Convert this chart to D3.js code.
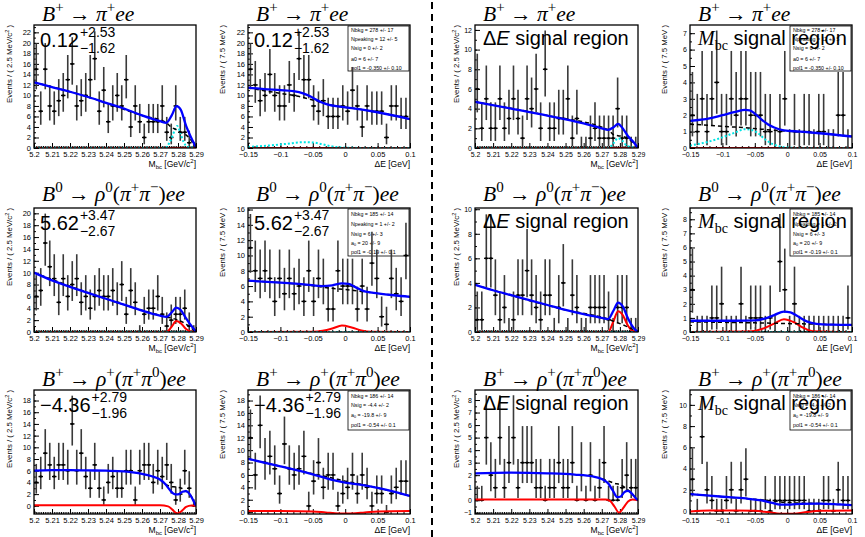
<!DOCTYPE html>
<html>
<head>
<meta charset="utf-8">
<script src="https://cdn.jsdelivr.net/npm/d3@7"></script>
<style>
  body { margin: 0; background: #fff; }
  svg { display: block; }
</style>
</head>
<body>
<svg id="chart" width="865" height="537"></svg>
<script>
// ---- event counts per bin (Mbc: 36 bins of 2.5 MeV, dE: 33 bins of 7.5 MeV) ----
const pipMbc   = [15,7,15,8,7,9,10,13,16,8, 9,10,13,17,7,11,5,8,10,8, 13,4,8,5,2,5,5,5,8,3, 2,8,3,3,1,0];
const pipDe    = [15,12,9,10,14,10,8,8,12,10, 17,13,13,8,7,9,6,6,6,8, 7,11,8,4,8,7,7,7,2,8, 8,6,6];
const pipMbcSR = [6,2,5,2,2,5,2,3,5,3, 1,5,4,6,2,8,2,2,3,3, 5,1,3,0,0,1,2,1,1,1, 1,4,1,1,0,0];
const pipDeSR  = [2,1,3,1,3,4,1,1,3,2, 3,3,2,2,2,1,1,0,1,3, 0,1,0,1,1,0,1,1,0,0, 2,2,0];

const rho0Mbc   = [6,7,15,11,9,5,9,6,8,9, 5,6,4,6,7,6,6,7,5,8, 3,7,5,0,3,4,4,6,3,1, 2,3,3,4,1,0];
const rho0De    = [11,8,7,8,7,4,7,5,7,5, 6,4,8,4,7,6,3,3,8,6, 6,6,3,6,3,9,7,2,1,7, 5,4,10];
const rho0MbcSR = [1,1,6,6,3,1,2,0,1,3, 3,5,3,2,1,3,3,0,2,4, 0,3,2,0,0,2,2,2,2,1, 0,2,2,2,0,0];
const rho0DeSR  = [3,0,0,0,1,1,2,0,0,0, 2,0,1,1,1,0,1,0,5,3, 0,2,0,0,0,0,0,0,0,0, 0,0,1];

const rhopMbc   = [4,5,9,7,5,7,7,6,14,6, 9,5,3,7,3,1,4,5,3,3, 6,6,1,6,7,7,4,6,5,7, 4,1,2,6,3,0];
const rhopDe    = [12,6,14,8,9,7,3,11,7,6, 7,9,1,5,8,4,6,6,1,3, 4,6,3,6,4,1,3,3,0,3, 4,5,5];
const rhopMbcSR = [0,0,5,2,1,5,1,3,5,1, 3,3,3,1,1,0,1,1,3,1, 1,3,0,2,0,2,0,1,3,0, 0,0,1,2,1,1];
const rhopDeSR  = [3,0,7,2,1,0,0,1,2,0, 2,3,0,0,0,1,0,1,1,1, 1,1,1,1,0,0,0,1,1,0, 2,1,1];

// ---- fit curves: [x, y] ----
const zeroMbc = [[5.2,0],[5.29,0]];
const zeroDe  = [[-0.15,0],[0.1,0]];

const pipMbcFit  = [[5.2,12.5],[5.21,11.6],[5.22,10.7],[5.23,9.7],[5.24,8.6],[5.25,7.5],[5.26,6.2],[5.27,5.1],[5.2735,4.8],[5.2765,6.2],[5.2792,7.95],[5.2815,7.3],[5.2845,4.2],[5.287,2.2],[5.2895,0.5],[5.29,0.2]];
const pipMbcBkg  = [[5.2,12.5],[5.23,9.7],[5.26,6.2],[5.2735,4.8],[5.2765,3.9],[5.279,3.5],[5.2815,3.0],[5.284,2.6],[5.287,1.6],[5.29,0]];
const pipMbcPeak = [[5.2,0],[5.273,0],[5.2755,1.2],[5.2785,3.6],[5.2795,4.2],[5.281,3.2],[5.283,1.2],[5.2855,0.2],[5.29,0]];
const pipDeFit   = [[-0.15,11.5],[-0.125,11.2],[-0.1,11.0],[-0.08,10.8],[-0.065,10.4],[-0.055,9.9],[-0.045,9.2],[-0.035,8.6],[-0.025,8.2],[-0.01,7.9],[0.01,7.6],[0.05,6.8],[0.1,5.5]];
const pipDeBkg   = [[-0.15,11.5],[-0.125,10.9],[-0.1,10.4],[-0.075,9.9],[-0.055,9.3],[-0.04,8.8],[-0.025,8.3],[-0.01,7.9],[0.01,7.6],[0.05,6.8],[0.1,5.5]];
const pipDePeak  = [[-0.15,0.2],[-0.12,0.45],[-0.09,0.8],[-0.065,1.1],[-0.05,1.05],[-0.035,0.7],[-0.02,0.3],[-0.005,0.1],[0.02,0.02],[0.1,0]];
const pipMbcSRFit  = [[5.2,4.7],[5.22,4.0],[5.24,3.3],[5.26,2.5],[5.27,2.0],[5.2735,1.85],[5.2765,2.1],[5.279,2.45],[5.2815,2.0],[5.2845,1.2],[5.2875,0.6],[5.29,0]];
const pipMbcSRBkg  = [[5.2,4.7],[5.24,3.3],[5.2735,1.85],[5.2765,1.35],[5.279,1.25],[5.282,1.15],[5.285,0.9],[5.2875,0.5],[5.29,0]];
const pipMbcSRPeak = [[5.2,0],[5.2735,0],[5.2765,0.5],[5.279,1.0],[5.2815,0.7],[5.284,0.2],[5.29,0]];
const pipDeSRFit   = [[-0.15,1.65],[-0.12,1.8],[-0.1,2.0],[-0.08,2.2],[-0.065,2.32],[-0.058,2.3],[-0.05,2.1],[-0.04,1.75],[-0.03,1.45],[-0.02,1.25],[-0.005,1.08],[0.02,1.0],[0.05,0.9],[0.1,0.7]];
const pipDeSRBkg   = [[-0.15,1.45],[-0.12,1.38],[-0.09,1.3],[-0.06,1.22],[-0.04,1.15],[-0.02,1.08],[0,1.02],[0.05,0.9],[0.1,0.7]];
const pipDeSRPeak  = [[-0.15,0.15],[-0.12,0.4],[-0.1,0.65],[-0.08,0.95],[-0.065,1.15],[-0.055,1.1],[-0.045,0.9],[-0.035,0.55],[-0.02,0.2],[-0.005,0.05],[0.02,0],[0.1,0]];

const rho0MbcFit = [[5.2,10],[5.21,8.7],[5.22,7.6],[5.23,6.6],[5.24,5.6],[5.25,4.6],[5.26,3.6],[5.27,2.75],[5.2735,2.55],[5.2765,3.3],[5.279,4.1],[5.2815,3.7],[5.2845,2.3],[5.2875,1.0],[5.29,0.1]];
const rho0MbcBkg = [[5.2,10],[5.25,4.6],[5.2735,2.55],[5.277,2.3],[5.281,1.9],[5.285,1.2],[5.29,0]];
const rho0MbcSig = [[5.2,0],[5.2735,0],[5.2765,0.9],[5.279,1.85],[5.2815,1.5],[5.2845,0.5],[5.2875,0.05],[5.29,0]];
const rho0DeFit  = [[-0.15,6.7],[-0.1,6.45],[-0.06,6.2],[-0.035,6.0],[-0.02,6.1],[-0.005,6.35],[0.005,6.3],[0.015,5.9],[0.03,5.3],[0.05,5.05],[0.075,4.8],[0.1,4.6]];
const rho0DeBkg  = [[-0.15,6.7],[-0.1,6.45],[-0.05,6.05],[-0.02,5.7],[0,5.55],[0.02,5.35],[0.05,5.05],[0.1,4.6]];
const rho0DeSig  = [[-0.15,0],[-0.05,0.02],[-0.035,0.15],[-0.02,0.45],[-0.005,0.85],[0.01,0.6],[0.025,0.2],[0.04,0.03],[0.1,0]];
const rho0MbcSRFit = [[5.2,3.85],[5.21,3.4],[5.22,3.0],[5.23,2.6],[5.24,2.2],[5.25,1.8],[5.26,1.45],[5.27,1.15],[5.2735,1.05],[5.2765,1.75],[5.279,2.4],[5.2815,2.1],[5.2845,1.1],[5.2875,0.35],[5.29,0]];
const rho0MbcSRBkg = [[5.2,3.85],[5.25,1.8],[5.2735,1.05],[5.278,0.8],[5.283,0.5],[5.29,0]];
const rho0MbcSRSig = [[5.2,0],[5.2735,0],[5.2765,0.9],[5.279,1.7],[5.2815,1.4],[5.2845,0.5],[5.2875,0.05],[5.29,0]];
const rho0DeSRFit  = [[-0.15,0.8],[-0.08,0.8],[-0.05,0.82],[-0.035,0.95],[-0.02,1.2],[-0.005,1.45],[0.005,1.4],[0.015,1.15],[0.03,0.75],[0.045,0.58],[0.07,0.52],[0.1,0.5]];
const rho0DeSRBkg  = [[-0.15,0.72],[-0.05,0.65],[0,0.6],[0.05,0.55],[0.1,0.5]];
const rho0DeSRSig  = [[-0.15,0],[-0.06,0.03],[-0.04,0.2],[-0.02,0.6],[-0.005,0.9],[0.01,0.7],[0.025,0.3],[0.04,0.06],[0.1,0]];

const rhopMbcFit = [[5.2,6.0],[5.21,6.1],[5.22,6.1],[5.23,6.05],[5.24,6.0],[5.25,5.9],[5.255,5.7],[5.26,5.45],[5.265,5.1],[5.27,4.5],[5.273,3.7],[5.2755,2.7],[5.278,2.0],[5.28,1.95],[5.2825,2.4],[5.2845,2.5],[5.2865,2.0],[5.288,1.2],[5.2895,0.3],[5.29,0]];
const rhopMbcBkg = [[5.27,4.5],[5.273,3.7],[5.276,3.3],[5.279,3.2],[5.282,3.0],[5.284,2.6],[5.2865,2.0],[5.29,0]];
const rhopMbcSig = [[5.2,0.1],[5.27,0.1],[5.2745,-0.1],[5.277,-0.7],[5.2795,-1.3],[5.282,-0.9],[5.2845,-0.2],[5.2875,0.05],[5.29,0.02]];
const rhopDeFit  = [[-0.15,8.6],[-0.1,7.4],[-0.05,6.1],[-0.02,5.2],[0,4.75],[0.025,4.4],[0.05,3.9],[0.075,3.3],[0.1,2.6]];
const rhopDeBkg  = [[-0.15,8.6],[-0.1,7.4],[-0.05,6.2],[-0.02,5.5],[0,5.0],[0.025,4.5],[0.05,3.9],[0.1,2.6]];
const rhopDeSig  = [[-0.15,0.2],[-0.1,0.18],[-0.05,0.1],[-0.03,-0.05],[-0.01,-0.2],[0.01,-0.2],[0.03,-0.05],[0.05,0.12],[0.1,0.2]];
const rhopMbcSRFit = [[5.2,2.15],[5.22,2.2],[5.24,2.15],[5.255,2.05],[5.265,1.9],[5.27,1.7],[5.2735,1.35],[5.276,0.8],[5.2785,0.25],[5.2805,0.3],[5.2825,0.65],[5.2845,0.75],[5.2865,0.55],[5.2885,0.2],[5.29,0]];
const rhopMbcSRBkg = [[5.27,1.7],[5.2735,1.55],[5.277,1.35],[5.28,1.25],[5.283,1.0],[5.286,0.6],[5.29,0]];
const rhopMbcSRSig = [[5.2,0.05],[5.272,0.05],[5.2745,-0.05],[5.277,-0.5],[5.2795,-1.0],[5.282,-0.6],[5.2845,-0.1],[5.287,0.05],[5.29,0]];
const rhopDeSRFit  = [[-0.15,1.6],[-0.12,1.45],[-0.09,1.3],[-0.06,1.15],[-0.04,1.0],[-0.025,0.8],[-0.01,0.6],[0.005,0.6],[0.02,0.68],[0.05,0.7],[0.08,0.62],[0.1,0.55]];
const rhopDeSRBkg  = [[-0.15,1.6],[-0.06,1.15],[-0.03,1.0],[0,0.8],[0.05,0.7],[0.1,0.55]];
const rhopDeSRSig  = [[-0.15,-0.05],[-0.12,0.05],[-0.08,0.05],[-0.05,0.02],[-0.03,-0.1],[-0.01,-0.25],[0.01,-0.25],[0.03,-0.1],[0.05,0.02],[0.1,0.05]];

// ---- text content ----
const yields = [["0.12","+2.53","\u22121.62"],["5.62","+3.47","\u22122.67"],["\u22124.36","+2.79","\u22121.96"]];
const fitPars = [
  [["Nbkg =  278 +/- 17"],["Npeaking =  12 +/- 5"],["Nsig =  0 +/- 2"],["a0 =  6 +/- 7"],["pol1 = -0.350 +/- 0.10"]],
  [["Nbkg =  185 +/- 14"],["Npeaking =  1 +/- 2"],["Nsig =  6 +/- 3"],["a","0"," =  20 +/- 9"],["pol1 = -0.19 +/- 0.1"]],
  [["Nbkg =  186 +/- 14"],["Nsig =  -4.4 +/- 2"],["a","0"," =  -19.8 +/- 9"],["pol1 = -0.54 +/- 0.1"]]
];

// ---- layout ----
const cols = [{l:34,r:196,yt:22,tf:7.5},{l:248,r:410,yt:23,tf:7.5},{l:475,r:638,yt:16,tf:7},{l:690,r:852,yt:23,tf:7}];
const rows = [{t:25,b:148,tb:21},{t:208,b:332,tb:201},{t:390,b:514,tb:386}];
const boxes = [{h:45,lines:[6,15,24,35,44]},{h:47,lines:[6.5,16.5,26.5,35.5,44.5]},{h:39,lines:[7,16,26,36]}];

const panels = [
  {r:0,c:0,k:"mbc",n:pipMbc,fit:pipMbcFit,bkg:pipMbcBkg,peak:pipMbcPeak,sig:zeroMbc,y:[0,23.4],st:2},
  {r:0,c:1,k:"de",n:pipDe,fit:pipDeFit,bkg:pipDeBkg,peak:pipDePeak,sig:zeroDe,y:[0,23.4],st:2},
  {r:0,c:2,k:"mbc",n:pipMbcSR,fit:pipMbcSRFit,bkg:pipMbcSRBkg,peak:pipMbcSRPeak,sig:zeroMbc,y:[0,12.5],st:2},
  {r:0,c:3,k:"de",n:pipDeSR,fit:pipDeSRFit,bkg:pipDeSRBkg,peak:pipDeSRPeak,sig:zeroDe,y:[0,7.5],st:1},
  {r:1,c:0,k:"mbc",n:rho0Mbc,fit:rho0MbcFit,bkg:rho0MbcBkg,peak:zeroMbc,sig:rho0MbcSig,y:[0,20.9],st:2},
  {r:1,c:1,k:"de",n:rho0De,fit:rho0DeFit,bkg:rho0DeBkg,peak:zeroDe,sig:rho0DeSig,y:[0,16.2],st:2},
  {r:1,c:2,k:"mbc",n:rho0MbcSR,fit:rho0MbcSRFit,bkg:rho0MbcSRBkg,peak:zeroMbc,sig:rho0MbcSRSig,y:[0,10.1],st:2},
  {r:1,c:3,k:"de",n:rho0DeSR,fit:rho0DeSRFit,bkg:rho0DeSRBkg,peak:zeroDe,sig:rho0DeSRSig,y:[0,8.8],st:1},
  {r:2,c:0,k:"mbc",n:rhopMbc,fit:rhopMbcFit,bkg:rhopMbcBkg,peak:null,sig:rhopMbcSig,y:[-1.4,19.8],st:2},
  {r:2,c:1,k:"de",n:rhopDe,fit:rhopDeFit,bkg:rhopDeBkg,peak:null,sig:rhopDeSig,y:[-0.3,19.7],st:2},
  {r:2,c:2,k:"mbc",n:rhopMbcSR,fit:rhopMbcSRFit,bkg:rhopMbcSRBkg,peak:null,sig:rhopMbcSRSig,y:[-1.1,8.8],st:1},
  {r:2,c:3,k:"de",n:rhopDeSR,fit:rhopDeSRFit,bkg:rhopDeSRBkg,peak:null,sig:rhopDeSRSig,y:[-0.28,11.4],st:2}
];

const serif = '"Liberation Serif","DejaVu Serif",serif';
const sans = '"Liberation Sans",Arial,sans-serif';

const titles = [
  [{t:"B",it:1},{t:"+",sup:1},{t:" \u2192  "},{t:"\u03c0",it:1},{t:"+",sup:1},{t:"ee",it:1}],
  [{t:"B",it:1},{t:"0",sup:1},{t:" \u2192  "},{t:"\u03c1",it:1},{t:"0",sup:1},{t:"("},{t:"\u03c0",it:1},{t:"+",sup:1},{t:"\u03c0",it:1},{t:"\u2212",sup:1},{t:")"},{t:"ee",it:1}],
  [{t:"B",it:1},{t:"+",sup:1},{t:" \u2192  "},{t:"\u03c1",it:1},{t:"+",sup:1},{t:"("},{t:"\u03c0",it:1},{t:"+",sup:1},{t:"\u03c0",it:1},{t:"0",sup:1},{t:")"},{t:"ee",it:1}]
];

// Poisson 68% central interval (RooFit style)
function poisCdf(n, mu) { let t = Math.exp(-mu), s = t; for (let k = 1; k <= n; k++) { t *= mu / k; s += t; } return s; }
function solve(f, target, lo, hi) { for (let i = 0; i < 60; i++) { const m = (lo + hi) / 2; if (f(m) > target) lo = m; else hi = m; } return (lo + hi) / 2; }
function errLo(n) { return n === 0 ? 0 : solve(mu => poisCdf(n - 1, mu), 0.8413, 0, n + 10); }
function errHi(n) { return n === 0 ? 1.148 : solve(mu => poisCdf(n, mu), 0.1587, 0, n + 20); }

// rich text: parts with italic / sup / sub
function rich(text, parts, size) {
  let shift = 0;
  parts.forEach(p => {
    const ts = text.append("tspan").text(p.t);
    const target = p.sup ? -size * 0.42 : (p.sub ? size * 0.25 : 0);
    if (target !== shift) { ts.attr("dy", target - shift); shift = target; }
    if (p.sup || p.sub) ts.attr("font-size", size * 0.7);
    if (p.it) ts.attr("font-style", "italic");
    if (p.font) ts.attr("font-family", p.font);
  });
}

const svg = d3.select("#chart");
svg.append("rect").attr("width", 865).attr("height", 537).attr("fill", "#fff");

// dashed separator
svg.append("line").attr("x1", 432).attr("x2", 432).attr("y1", 2).attr("y2", 537)
  .attr("stroke", "#000").attr("stroke-width", 2).attr("stroke-dasharray", "7,5");

panels.forEach((p, i) => {
  const C = cols[p.c], R = rows[p.r];
  const mbc = p.k === "mbc";
  const x = d3.scaleLinear().domain(mbc ? [5.2, 5.29] : [-0.15, 0.1]).range([C.l, C.r]);
  const y = d3.scaleLinear().domain(p.y).range([R.b, R.t]);
  const g = svg.append("g");

  g.append("clipPath").attr("id", "clip" + i).append("rect")
    .attr("x", C.l).attr("y", R.t).attr("width", C.r - C.l).attr("height", R.b - R.t);

  // axes
  const xMaj = mbc ? d3.range(10).map(j => +(5.2 + j * 0.01).toFixed(3)) : [-0.15, -0.1, -0.05, 0, 0.05, 0.1];
  const xMin = mbc ? d3.range(91).map(j => 5.2 + j * 0.001) : d3.range(26).map(j => -0.15 + j * 0.01);
  g.append("g").attr("transform", `translate(0,${R.b})`)
    .call(d3.axisBottom(x).tickValues(xMin).tickSize(-2).tickFormat(""))
    .call(a => a.select(".domain").remove());
  g.append("g").attr("transform", `translate(0,${R.b})`)
    .call(d3.axisBottom(x).tickValues(xMaj).tickSize(-5).tickPadding(4)
      .tickFormat(mbc ? d3.format(".3~f") : d3.format(".2~f")))
    .call(a => a.select(".domain").remove())
    .attr("font-size", C.tf).attr("font-family", sans);

  const y0 = Math.ceil(p.y[0] / p.st) * p.st;
  const yMaj = d3.range(y0, p.y[1] + 1e-9, p.st);
  const yMin = d3.range(Math.ceil(p.y[0] / (p.st / 2)) * (p.st / 2), p.y[1], p.st / 2);
  g.append("g").attr("transform", `translate(${C.l},0)`)
    .call(d3.axisLeft(y).tickValues(yMin).tickSize(-2).tickFormat(""))
    .call(a => a.select(".domain").remove());
  g.append("g").attr("transform", `translate(${C.l},0)`)
    .call(d3.axisLeft(y).tickValues(yMaj).tickSize(-5).tickPadding(3).tickFormat(d3.format("d")))
    .call(a => a.select(".domain").remove())
    .attr("font-size", C.tf).attr("font-family", sans);

  // axis titles
  const yt = g.append("text").attr("font-family", sans).attr("font-size", 7.8)
    .attr("text-anchor", "end")
    .attr("transform", `translate(${C.l - C.yt},${R.t}) rotate(-90)`);
  if (mbc) rich(yt, [{t:"Events / ( 2.5 MeV/c"},{t:"2",sup:1},{t:" )"}], 7.8);
  else rich(yt, [{t:"Events / ( 7.5 MeV )"}], 7.8);

  const xt = g.append("text").attr("font-family", sans).attr("font-size", 8.5)
    .attr("text-anchor", "end").attr("x", C.r).attr("y", R.b + 19);
  if (mbc) rich(xt, [{t:"M"},{t:"bc",sub:1},{t:" [GeV/c"},{t:"2",sup:1},{t:"]"}], 8.5);
  else rich(xt, [{t:"\u0394E [GeV]"}], 8.5);

  // title
  const tt = g.append("text").attr("font-family", serif).attr("font-size", 21.5)
    .attr("x", C.l + 8).attr("y", R.tb);
  rich(tt, titles[p.r], 21.5);

  // fit results box
  if (p.c === 1 || p.c === 3) {
    const B = boxes[p.r];
    const bw = 61, bx = C.r - bw - 1, by = R.t + 1;
    g.append("rect").attr("x", bx).attr("y", by).attr("width", bw).attr("height", B.h)
      .attr("fill", "#fff").attr("stroke", "#000").attr("stroke-width", 0.8);
    fitPars[p.r].forEach((ln, j) => {
      const t = g.append("text").attr("font-family", sans).attr("font-size", 5.3)
        .attr("x", bx + 3).attr("y", by + B.lines[j]);
      if (ln.length === 1) t.text(ln[0]);
      else rich(t, [{t:ln[0]},{t:ln[1],sub:1},{t:ln[2]}], 5.3);
    });
  }

  // data points with Poisson errors
  const w = mbc ? 0.0025 : 0.0075, xs = mbc ? 5.2 : -0.15;
  const bins = p.n.map((v, j) => ({c: xs + w * (j + 0.5), v, lo: errLo(v), hi: errHi(v)}));
  const dg = g.append("g").attr("clip-path", `url(#clip${i})`);
  dg.selectAll("line.ev").data(bins).join("line").attr("class", "ev")
    .attr("x1", d => x(d.c)).attr("x2", d => x(d.c))
    .attr("y1", d => y(d.lo)).attr("y2", d => y(d.hi))
    .attr("stroke", "#3a3a3a").attr("stroke-width", 1.6);
  dg.selectAll("line.eh").data(bins).join("line").attr("class", "eh")
    .attr("x1", d => x(d.c - w / 2)).attr("x2", d => x(d.c + w / 2))
    .attr("y1", d => y(d.v)).attr("y2", d => y(d.v))
    .attr("stroke", "#000").attr("stroke-width", 1.4);
  dg.selectAll("circle").data(bins).join("circle")
    .attr("cx", d => x(d.c)).attr("cy", d => y(d.v)).attr("r", 1.2).attr("fill", "#000");

  // curves
  const line = d3.line().x(d => x(d[0])).y(d => y(d[1])).curve(d3.curveMonotoneX);
  const cg = g.append("g").attr("clip-path", `url(#clip${i})`).attr("fill", "none");
  cg.append("path").attr("d", line(p.sig)).attr("stroke", "#ff0000").attr("stroke-width", 2);
  if (p.peak) cg.append("path").attr("d", line(p.peak)).attr("stroke", "#00e5e5")
    .attr("stroke-width", 2).attr("stroke-dasharray", "2,2");
  cg.append("path").attr("d", line(p.bkg)).attr("stroke", "#000")
    .attr("stroke-width", 1.5).attr("stroke-dasharray", "4,3");
  cg.append("path").attr("d", line(p.fit)).attr("stroke", "#0000ff").attr("stroke-width", 2.3);

  // frame
  g.append("rect").attr("x", C.l).attr("y", R.t).attr("width", C.r - C.l).attr("height", R.b - R.t)
    .attr("fill", "none").attr("stroke", "#000").attr("stroke-width", 1.3);

  // yield text (left two columns)
  if (p.c < 2) {
    const Y = yields[p.r];
    const bx = C.l + 6, by = R.t + 22;
    const mt = g.append("text").attr("font-family", sans).attr("font-size", 20)
      .attr("x", bx).attr("y", by).text(Y[0]);
    const mw = mt.node().getComputedTextLength();
    g.append("text").attr("font-family", sans).attr("font-size", 14)
      .attr("x", bx + mw + 1).attr("y", by - 10).text(Y[1]);
    g.append("text").attr("font-family", sans).attr("font-size", 14)
      .attr("x", bx + mw + 1).attr("y", by + 6).text(Y[2]);
  } else {
    const st = g.append("text").attr("font-family", sans).attr("font-size", 20)
      .attr("x", C.l + 8).attr("y", R.t + 20);
    if (p.c === 2) rich(st, [{t:"\u0394"},{t:"E",it:1},{t:"  signal region"}], 20);
    else rich(st, [{t:"M",it:1,font:serif},{t:"bc",sub:1,font:serif},{t:"  signal region"}], 20);
  }
});
</script>
</body>
</html>
